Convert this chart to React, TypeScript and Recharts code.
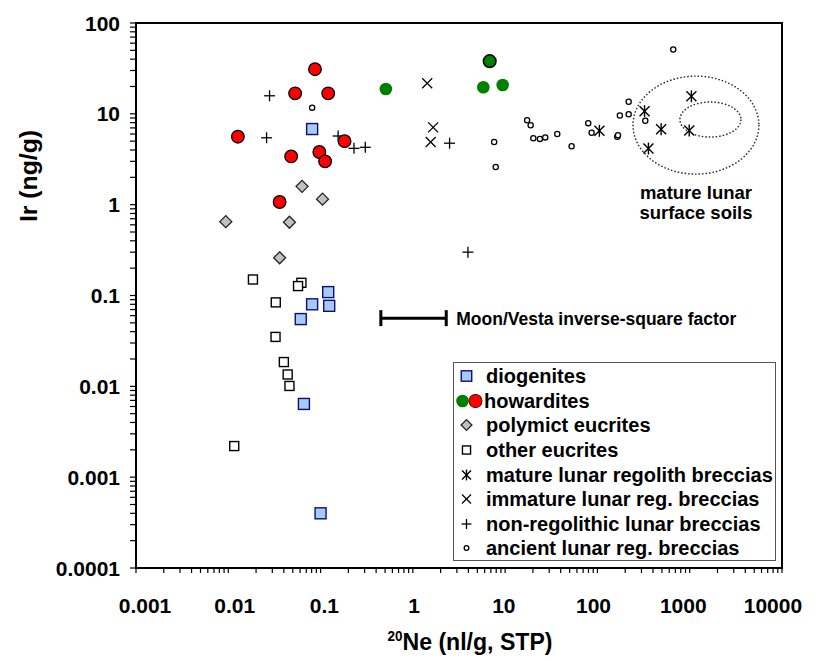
import { ScatterChart, Scatter, XAxis, YAxis, ReferenceArea, ReferenceLine, Legend } from "recharts";

const FONT = "'Liberation Sans', Arial, Helvetica, sans-serif";

// axis decades; minor ticks at 2..9 within each decade
const X_DECADES = [0.001, 0.01, 0.1, 1, 10, 100, 1000, 10000];
const Y_DECADES = [0.0001, 0.001, 0.01, 0.1, 1, 10, 100];
const MINOR_STEPS = [1, 2, 3, 4, 5, 6, 7, 8, 9];

// [20Ne (nl/g), Ir (ng/g)]
const diogenites = [
  [0.081, 6.8], [0.121, 0.109], [0.081, 0.08], [0.124, 0.077],
  [0.061, 0.055], [0.066, 0.0064], [0.1, 0.0004],
];
const howarditesRed = [
  [0.087, 31], [0.053, 16.8], [0.121, 16.8], [0.0127, 5.6], [0.048, 3.4],
  [0.097, 3.8], [0.112, 3.0], [0.182, 5.0], [0.036, 1.07],
];
const howarditesGreen = [[0.51, 18.8], [5.8, 19.6], [9.4, 20.8]];
const howarditesGreenRim = [[6.8, 38]];
const polymictEucrites = [[0.063, 1.59], [0.105, 1.15], [0.0094, 0.65], [0.046, 0.64], [0.036, 0.26]];
const otherEucrites = [
  [0.0185, 0.15], [0.062, 0.138], [0.057, 0.127], [0.0327, 0.084], [0.0325, 0.035],
  [0.04, 0.0185], [0.044, 0.0135], [0.046, 0.0101], [0.0116, 0.0022],
];
const matureRegolith = [[105, 6.5], [324, 10.7], [490, 6.75], [357, 4.15], [1043, 15.6], [988, 6.55]];
const immatureRegolith = [[1.43, 21.7], [1.66, 7.1], [1.56, 4.9]];
const nonRegolithic = [
  [0.028, 15.8], [0.026, 5.45], [0.155, 5.7], [0.23, 4.17], [0.305, 4.28], [2.5, 4.75], [3.95, 0.3],
];
const ancientRegolith = [
  [0.081, 11.7], [663, 51], [7.6, 4.9], [7.9, 2.6], [17.3, 8.5], [18.9, 7.5], [20.2, 5.4],
  [23.8, 5.3], [27.2, 5.5], [36.7, 6.0], [52.5, 4.4], [79.5, 7.9], [86.5, 6.2], [164, 5.6],
  [167, 5.8], [175, 9.6], [218, 13.6], [218, 9.9], [330, 8.4],
];

// Moon/Vesta inverse-square bar and the soil fields
const factorBar = { x1: 0.45, x2: 2.3, y: 0.056, capLow: 0.046, capHigh: 0.069 };
const soilsOuter = { x1: 243, x2: 5620, y1: 2.17, y2: 26 };
const soilsInner = { x1: 783, x2: 3590, y1: 5.55, y2: 13.5 };

const X_TICKS = X_DECADES.slice(0, -1).flatMap((d) => MINOR_STEPS.map((m) => d * m)).concat(X_DECADES.slice(-1));
const Y_TICKS = Y_DECADES.slice(0, -1).flatMap((d) => MINOR_STEPS.map((m) => d * m)).concat(Y_DECADES.slice(-1));

const pts = (arr: number[][]) => arr.map(([x, y]) => ({ x, y }));

const LEGEND_ITEMS = [
  { key: "dio", label: "diogenites" },
  { key: "how", label: "howardites" },
  { key: "poly", label: "polymict eucrites" },
  { key: "euc", label: "other eucrites" },
  { key: "mat", label: "mature lunar regolith breccias" },
  { key: "imm", label: "immature lunar reg. breccias" },
  { key: "non", label: "non-regolithic lunar breccias" },
  { key: "anc", label: "ancient lunar reg. breccias" },
];

const BLUE_FILL = "#a6caf0";
const BLUE_EDGE = "#0d0d80";
const GREEN = "#008000";
const RED = "#ff0000";

function Marker({ kind, cx, cy, s = 1 }: { kind: string; cx: number; cy: number; s?: number }) {
  switch (kind) {
    case "dio":
      return <rect x={cx - 5.5 * s} y={cy - 5.5 * s} width={11 * s} height={11 * s} fill={BLUE_FILL} stroke={BLUE_EDGE} strokeWidth={1.4} />;
    case "red":
      return <circle cx={cx} cy={cy} r={6.3 * s} fill={RED} stroke="#000" strokeWidth={1.3} />;
    case "green":
      return <circle cx={cx} cy={cy} r={6.3 * s} fill={GREEN} />;
    case "greenRim":
      return <circle cx={cx} cy={cy} r={6.3 * s} fill={GREEN} stroke="#000" strokeWidth={1.5} />;
    case "poly":
      return <polygon points={`${cx},${cy - 6 * s} ${cx + 6 * s},${cy} ${cx},${cy + 6 * s} ${cx - 6 * s},${cy}`} fill="#c0c0c0" stroke="#222" strokeWidth={1.3} />;
    case "euc":
      return <rect x={cx - 4.5 * s} y={cy - 4.5 * s} width={9 * s} height={9 * s} fill="#fff" stroke="#000" strokeWidth={1.4} />;
    case "mat": {
      const a = 6 * s, b = 5 * s;
      return (
        <g stroke="#000" strokeWidth={1.4}>
          <line x1={cx} y1={cy - a} x2={cx} y2={cy + a} />
          <line x1={cx - b} y1={cy - b} x2={cx + b} y2={cy + b} />
          <line x1={cx - b} y1={cy + b} x2={cx + b} y2={cy - b} />
        </g>
      );
    }
    case "imm": {
      const b = 5 * s;
      return (
        <g stroke="#000" strokeWidth={1.3}>
          <line x1={cx - b} y1={cy - b} x2={cx + b} y2={cy + b} />
          <line x1={cx - b} y1={cy + b} x2={cx + b} y2={cy - b} />
        </g>
      );
    }
    case "non": {
      const a = 5.5 * s;
      return (
        <g stroke="#000" strokeWidth={1.3}>
          <line x1={cx - a} y1={cy} x2={cx + a} y2={cy} />
          <line x1={cx} y1={cy - a} x2={cx} y2={cy + a} />
        </g>
      );
    }
    case "anc":
      return <circle cx={cx} cy={cy} r={2.6 * s} fill="#fff" stroke="#000" strokeWidth={1.3} />;
    default:
      return <g />;
  }
}

const shapeOf = (kind: string) => (p: any) => <Marker kind={kind} cx={p.cx} cy={p.cy} />;

const XTick = (props: any) => {
  const { x, y, payload } = props;
  if (!X_DECADES.includes(payload.value)) return <g />;
  // labels sit slightly inward of their ticks
  const lx = 451 + (x - 451) * 0.972;
  return (
    <text x={lx} y={y} dy="0.71em" textAnchor="middle" fontFamily={FONT} fontWeight={700} fontSize={21} fill="#000">
      {String(payload.value)}
    </text>
  );
};

const YTick = (props: any) => {
  const { x, y, payload } = props;
  if (!Y_DECADES.includes(payload.value)) return <g />;
  return (
    <text x={x} y={y} dy="0.36em" textAnchor="end" fontFamily={FONT} fontWeight={700} fontSize={21} fill="#000">
      {String(payload.value)}
    </text>
  );
};

const xTitle = (props: any) => {
  const { x, y, width } = props.viewBox;
  const cx = x + width / 2 + 11;
  return (
    <text x={cx} y={y + 82} textAnchor="middle" fontFamily={FONT} fontWeight={700} fontSize={24} fill="#000" textLength={165} lengthAdjust="spacingAndGlyphs">
      <tspan fontSize={14} dy={-9}>20</tspan>
      <tspan dy={9}>Ne (nl/g, STP)</tspan>
    </text>
  );
};

const yTitle = (props: any) => {
  const { x, y } = props.viewBox;
  const tx = x + 21;
  const ty = y + 153;
  return (
    <text x={tx} y={ty} dy="0.35em" textAnchor="middle" transform={`rotate(-90 ${tx} ${ty})`} fontFamily={FONT} fontWeight={700} fontSize={24} fill="#000" textLength={92} lengthAdjust="spacingAndGlyphs">
      Ir (ng/g)
    </text>
  );
};

const soilsLabel = (props: any) => {
  const { x, y, width, height } = props.viewBox;
  const cx = x + width / 2;
  const top = y + height;
  return (
    <text x={cx} y={top + 25} textAnchor="middle" fontFamily={FONT} fontWeight={700} fontSize={18.5} fill="#000">
      <tspan x={cx}>mature lunar</tspan>
      <tspan x={cx} dy={20}>surface soils</tspan>
    </text>
  );
};

const dottedEllipse = (p: any) => (
  <ellipse
    cx={p.x + p.width / 2}
    cy={p.y + p.height / 2}
    rx={Math.abs(p.width) / 2}
    ry={Math.abs(p.height) / 2}
    fill="none"
    stroke="#222"
    strokeWidth={1.4}
    strokeDasharray="1.5 2"
  />
);

function LegendBox() {
  return (
    <div
      style={{
        width: 323,
        height: 199,
        boxSizing: "border-box",
        border: "1.5px solid #555",
        background: "#fff",
        paddingTop: 1,
        fontFamily: FONT,
        fontWeight: 700,
        fontSize: 20,
        color: "#000",
      }}
    >
      {LEGEND_ITEMS.map((item) => (
        <div key={item.key} style={{ display: "flex", alignItems: "center", height: 24.6, whiteSpace: "nowrap" }}>
          <svg width={31} height={24} style={{ flex: "none" }}>
            {item.key === "how" ? (
              <g>
                <Marker kind="green" cx={8.5} cy={12} />
                <Marker kind="red" cx={21.5} cy={12} s={1} />
                <circle cx={21.5} cy={12} r={6.3} fill={RED} />
              </g>
            ) : (
              <Marker kind={item.key} cx={12.5} cy={12} s={item.key === "dio" ? 0.95 : 0.9} />
            )}
          </svg>
          <span style={{ marginLeft: item.key === "how" ? -1 : 1, lineHeight: 1 }}>{item.label}</span>
        </div>
      ))}
    </div>
  );
}

export default function App() {
  return (
    <ScatterChart width={810} height={653} margin={{ top: 15, right: 36, bottom: 0, left: 0 }} style={{ fontFamily: FONT }}>
      <XAxis
        type="number"
        dataKey="x"
        scale="log"
        domain={[0.001, 10000]}
        allowDataOverflow
        ticks={X_TICKS}
        interval={0}
        height={93}
        tickSize={5}
        tickMargin={25}
        tick={<XTick />}
        axisLine={{ stroke: "#000", strokeWidth: 1.6 }}
        tickLine={{ stroke: "#000", strokeWidth: 1.2 }}
        label={xTitle}
      />
      <YAxis
        type="number"
        dataKey="y"
        scale="log"
        domain={[0.0001, 100]}
        allowDataOverflow
        ticks={Y_TICKS}
        interval={0}
        width={128}
        tickSize={6}
        tickMargin={10}
        tick={<YTick />}
        axisLine={{ stroke: "#000", strokeWidth: 1.6 }}
        tickLine={{ stroke: "#000", strokeWidth: 1.2 }}
        label={yTitle}
      />
      <ReferenceArea x1={0.001} x2={10000} y1={0.0001} y2={100} fill="none" stroke="#000" strokeWidth={2} />
      <ReferenceArea {...soilsOuter} shape={dottedEllipse} label={soilsLabel} />
      <ReferenceArea {...soilsInner} shape={dottedEllipse} />
      <ReferenceLine
        segment={[{ x: factorBar.x1, y: factorBar.y }, { x: factorBar.x2, y: factorBar.y }]}
        stroke="#000"
        strokeWidth={3}
        label={{ value: "Moon/Vesta inverse-square factor", position: "right", offset: 10, fill: "#000", fontSize: 17.5, fontWeight: 700, fontFamily: FONT }}
      />
      <ReferenceLine segment={[{ x: factorBar.x1, y: factorBar.capLow }, { x: factorBar.x1, y: factorBar.capHigh }]} stroke="#000" strokeWidth={3} />
      <ReferenceLine segment={[{ x: factorBar.x2, y: factorBar.capLow }, { x: factorBar.x2, y: factorBar.capHigh }]} stroke="#000" strokeWidth={3} />

      <Scatter name="ancient lunar reg. breccias" data={pts(ancientRegolith)} shape={shapeOf("anc")} isAnimationActive={false} />
      <Scatter name="non-regolithic lunar breccias" data={pts(nonRegolithic)} shape={shapeOf("non")} isAnimationActive={false} />
      <Scatter name="immature lunar reg. breccias" data={pts(immatureRegolith)} shape={shapeOf("imm")} isAnimationActive={false} />
      <Scatter name="mature lunar regolith breccias" data={pts(matureRegolith)} shape={shapeOf("mat")} isAnimationActive={false} />
      <Scatter name="other eucrites" data={pts(otherEucrites)} shape={shapeOf("euc")} isAnimationActive={false} />
      <Scatter name="polymict eucrites" data={pts(polymictEucrites)} shape={shapeOf("poly")} isAnimationActive={false} />
      <Scatter name="diogenites" data={pts(diogenites)} shape={shapeOf("dio")} isAnimationActive={false} />
      <Scatter name="howardites" data={pts(howarditesGreen)} shape={shapeOf("green")} isAnimationActive={false} />
      <Scatter name="howardites (rim)" data={pts(howarditesGreenRim)} shape={shapeOf("greenRim")} isAnimationActive={false} />
      <Scatter name="howardites (red)" data={pts(howarditesRed)} shape={shapeOf("red")} isAnimationActive={false} />

      <Legend
        layout="vertical"
        align="center"
        verticalAlign="middle"
        content={() => <LegendBox />}
        wrapperStyle={{ left: 445, top: 354, width: 323, height: 199 }}
      />
    </ScatterChart>
  );
}
